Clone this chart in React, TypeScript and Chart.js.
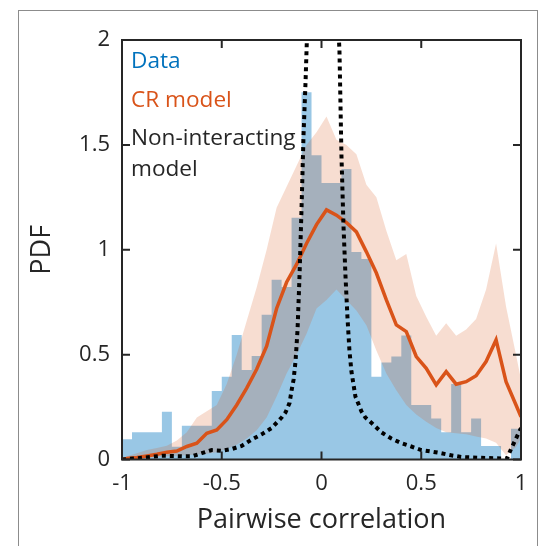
import React, { useEffect, useRef } from "react";
import { Chart, registerables } from "chart.js";

Chart.register(...registerables);

// Histogram bin edges (41) and observed PDF per bin (40)
const BIN_EDGES = [
  -1, -0.95, -0.9, -0.85, -0.8, -0.75, -0.7, -0.65, -0.6, -0.55,
  -0.5, -0.45, -0.4, -0.35, -0.3, -0.25, -0.2, -0.15, -0.1, -0.05,
  0, 0.05, 0.1, 0.15, 0.2, 0.25, 0.3, 0.35, 0.4, 0.45,
  0.5, 0.55, 0.6, 0.65, 0.7, 0.75, 0.8, 0.85, 0.9, 0.95, 1,
];
const DATA_PDF = [
  0.096, 0.13, 0.13, 0.13, 0.228, 0.061, 0.161, 0.161, 0.161, 0.327,
  0.394, 0.593, 0.427, 0.494, 0.69, 0.857, 0.823, 1.152, 1.751, 1.45,
  1.318, 1.318, 1.385, 0.989, 0.956, 0.395, 0.462, 0.491, 0.591, 0.26,
  0.26, 0.195, 0.13, 0.36, 0.13, 0.195, 0.064, 0.064, 0.0, 0.147,
];

// CR model: x positions, mean and confidence band
const MODEL_X = [
  -1, -0.975, -0.925, -0.875, -0.825, -0.775, -0.725, -0.675, -0.625, -0.575,
  -0.525, -0.475, -0.425, -0.375, -0.325, -0.275, -0.225, -0.175, -0.125, -0.075,
  -0.025, 0.025, 0.075, 0.125, 0.175, 0.225, 0.275, 0.325, 0.375, 0.425,
  0.475, 0.525, 0.575, 0.625, 0.675, 0.725, 0.775, 0.825, 0.875, 0.925,
  0.975, 1,
];
const CR_MEAN = [
  0, 0.005, 0.01, 0.017, 0.025, 0.035, 0.04, 0.062, 0.078, 0.125,
  0.141, 0.19, 0.26, 0.34, 0.43, 0.54, 0.72, 0.845, 0.93, 1.03,
  1.12, 1.19, 1.165, 1.13, 1.085, 0.99, 0.889, 0.761, 0.642, 0.61,
  0.491, 0.435, 0.356, 0.419, 0.359, 0.371, 0.399, 0.467, 0.57, 0.371,
  0.26, 0.204,
];
const CR_UPPER = [
  0.005, 0.015, 0.03, 0.045, 0.055, 0.065, 0.09, 0.13, 0.2, 0.23,
  0.26, 0.36, 0.5, 0.66, 0.82, 1.0, 1.2, 1.3, 1.4, 1.5,
  1.56, 1.635, 1.525, 1.5, 1.455, 1.31, 1.25, 1.09, 0.95, 0.98,
  0.78, 0.68, 0.59, 0.65, 0.59, 0.62, 0.67, 0.81, 1.03, 0.73,
  0.5, 0.38,
];
const CR_LOWER = [
  0, 0, 0.004, 0.008, 0.012, 0.015, 0.018, 0.02, 0.024, 0.028,
  0.035, 0.05, 0.07, 0.1, 0.14, 0.2, 0.3, 0.41, 0.5, 0.6,
  0.72, 0.76, 0.81, 0.76, 0.71, 0.64, 0.52, 0.41, 0.33, 0.26,
  0.215, 0.18, 0.15, 0.13, 0.125, 0.12, 0.11, 0.1, 0.08, 0.02,
  0.06, 0.1,
];

// Non-interacting model
const NI_X = [
  -1, -0.9, -0.8, -0.7, -0.65, -0.6, -0.55, -0.5, -0.45, -0.4,
  -0.35, -0.3, -0.25, -0.2, -0.18, -0.16, -0.15, -0.14, -0.13, -0.12,
  -0.11, -0.1, -0.09, -0.08, -0.07, -0.05, 0, 0.05, 0.07, 0.08,
  0.09, 0.1, 0.11, 0.12, 0.13, 0.14, 0.15, 0.17, 0.2, 0.22,
  0.25, 0.3, 0.35, 0.4, 0.45, 0.5, 0.55, 0.6, 0.65, 0.7,
  0.8, 0.9, 0.93, 0.95, 1,
];
const NI_PDF = [
  0, 0.008, 0.018, 0.015, 0.015, 0.03, 0.045, 0.042, 0.05, 0.065,
  0.095, 0.12, 0.15, 0.2, 0.225, 0.27, 0.33, 0.38, 0.47, 0.62,
  0.88, 1.2, 1.55, 1.8, 2.1, 2.8, 3.5, 2.9, 2.4, 2.15,
  1.95, 1.45, 1.12, 0.88, 0.68, 0.52, 0.42, 0.3, 0.23, 0.2,
  0.175, 0.13, 0.1, 0.078, 0.062, 0.045, 0.038, 0.03, 0.02, 0.012,
  0.008, 0.005, 0.005, 0.05, 0.15,
];

const X_TICKS = [-1, -0.5, 0, 0.5, 1];
const Y_TICKS = [0, 0.5, 1, 1.5, 2];

const LEGEND_LINES = ["Data", "CR model", "Non-interacting", "model"];
const LEGEND_COLORS = ["#0072BD", "#D95319", "#262626", "#262626"];

const FONT = "'Open Sans', 'DejaVu Sans', sans-serif";
const INK = "#262626";

const decor = {
  id: "decor",
  beforeDraw(chart: any) {
    const ctx = chart.ctx;
    ctx.save();
    ctx.fillStyle = "#ffffff";
    ctx.fillRect(0, 0, chart.width, chart.height);
    ctx.strokeStyle = "#8c8c8c";
    ctx.lineWidth = 1;
    ctx.strokeRect(18.5, 10.5, 519, 600);
    ctx.restore();
  },
  afterDatasetsDraw(chart: any) {
    const { ctx, chartArea: a, scales } = chart;
    const x = scales.x;
    const y = scales.y;
    ctx.save();
    ctx.strokeStyle = INK;
    ctx.lineWidth = 2;
    ctx.strokeRect(a.left, a.top, a.right - a.left, a.bottom - a.top);
    const L = 8;
    ctx.beginPath();
    X_TICKS.forEach((v) => {
      const px = x.getPixelForValue(v);
      ctx.moveTo(px, a.bottom);
      ctx.lineTo(px, a.bottom - L);
      ctx.moveTo(px, a.top);
      ctx.lineTo(px, a.top + L);
    });
    Y_TICKS.forEach((v) => {
      const py = y.getPixelForValue(v);
      ctx.moveTo(a.left, py);
      ctx.lineTo(a.left + L, py);
      ctx.moveTo(a.right, py);
      ctx.lineTo(a.right - L, py);
    });
    ctx.stroke();

    ctx.font = `22.6px ${FONT}`;
    ctx.textAlign = "left";
    ctx.textBaseline = "alphabetic";
    const baselines = [68.3, 106.7, 145, 175.7];
    LEGEND_LINES.forEach((t, i) => {
      ctx.fillStyle = LEGEND_COLORS[i];
      ctx.fillText(t, a.left + 9, baselines[i]);
    });
    ctx.restore();
  },
};

export default function App() {
  const ref = useRef<HTMLCanvasElement | null>(null);

  useEffect(() => {
    if (!ref.current) return;
    const histPts = BIN_EDGES.map((e, i) => ({
      x: e,
      y: i < DATA_PDF.length ? DATA_PDF[i] : DATA_PDF[DATA_PDF.length - 1],
    }));
    const upperPts = MODEL_X.map((v, i) => ({ x: v, y: CR_UPPER[i] }));
    const lowerPts = MODEL_X.map((v, i) => ({ x: v, y: CR_LOWER[i] }));
    const meanPts = MODEL_X.map((v, i) => ({ x: v, y: CR_MEAN[i] }));
    const niPts = NI_X.map((v, i) => ({ x: v, y: NI_PDF[i] }));

    const chart = new Chart(ref.current, {
      type: "line",
      data: {
        datasets: [
          {
            label: "Non-interacting model",
            data: niPts,
            borderColor: "#000000",
            borderWidth: 4,
            borderDash: [4, 4],
            borderCapStyle: "butt",
            pointRadius: 0,
            fill: false,
            tension: 0,
            order: 0,
          },
          {
            label: "CR model",
            data: meanPts,
            borderColor: "#D95319",
            borderWidth: 3.5,
            pointRadius: 0,
            fill: false,
            tension: 0,
            order: 1,
          },
          {
            label: "CR upper",
            data: upperPts,
            borderWidth: 0,
            borderColor: "rgba(0,0,0,0)",
            backgroundColor: "rgba(217,83,25,0.2)",
            pointRadius: 0,
            fill: "+1",
            tension: 0,
            order: 2,
          },
          {
            label: "CR lower",
            data: lowerPts,
            borderWidth: 0,
            borderColor: "rgba(0,0,0,0)",
            pointRadius: 0,
            fill: false,
            tension: 0,
            order: 3,
          },
          {
            label: "Data",
            data: histPts,
            stepped: "before",
            borderWidth: 0,
            borderColor: "rgba(0,0,0,0)",
            backgroundColor: "rgba(0,114,189,0.4)",
            pointRadius: 0,
            fill: "origin",
            order: 4,
          },
        ],
      },
      options: {
        animation: false,
        responsive: false,
        events: [],
        layout: { padding: { left: 0, top: 40, right: 26, bottom: 0 } },
        plugins: {
          legend: { display: false },
          tooltip: { enabled: false },
        },
        scales: {
          x: {
            type: "linear",
            min: -1,
            max: 1,
            afterBuildTicks: (s: any) => {
              s.ticks = X_TICKS.map((v) => ({ value: v }));
            },
            afterFit: (s: any) => {
              s.height = 86.5;
            },
            grid: { display: false, drawTicks: false },
            border: { display: false },
            ticks: {
              padding: 11,
              color: INK,
              font: { family: FONT, size: 22 },
              maxRotation: 0,
              callback: (v: any) => String(v),
            },
            title: {
              display: true,
              text: "Pairwise correlation",
              color: INK,
              font: { family: FONT, size: 27 },
              padding: { top: 0, bottom: 9 },
            },
          },
          y: {
            type: "linear",
            min: 0,
            max: 2,
            afterBuildTicks: (s: any) => {
              s.ticks = Y_TICKS.map((v) => ({ value: v }));
            },
            afterFit: (s: any) => {
              s.width = 122;
            },
            grid: { display: false, drawTicks: false },
            border: { display: false },
            ticks: {
              padding: 12,
              color: INK,
              font: { family: FONT, size: 22 },
              callback: (v: any) => String(v),
            },
            title: {
              display: true,
              text: "PDF",
              color: INK,
              font: { family: FONT, size: 27 },
              padding: { top: 26, bottom: 0 },
            },
          },
        },
      },
      plugins: [decor],
    } as any);
    return () => chart.destroy();
  }, []);

  return (
    <div style={{ position: "fixed", left: 0, top: 0, width: 547, height: 546, background: "#fff" }}>
      <canvas ref={ref} width={547} height={546} style={{ display: "block" }} />
    </div>
  );
}
